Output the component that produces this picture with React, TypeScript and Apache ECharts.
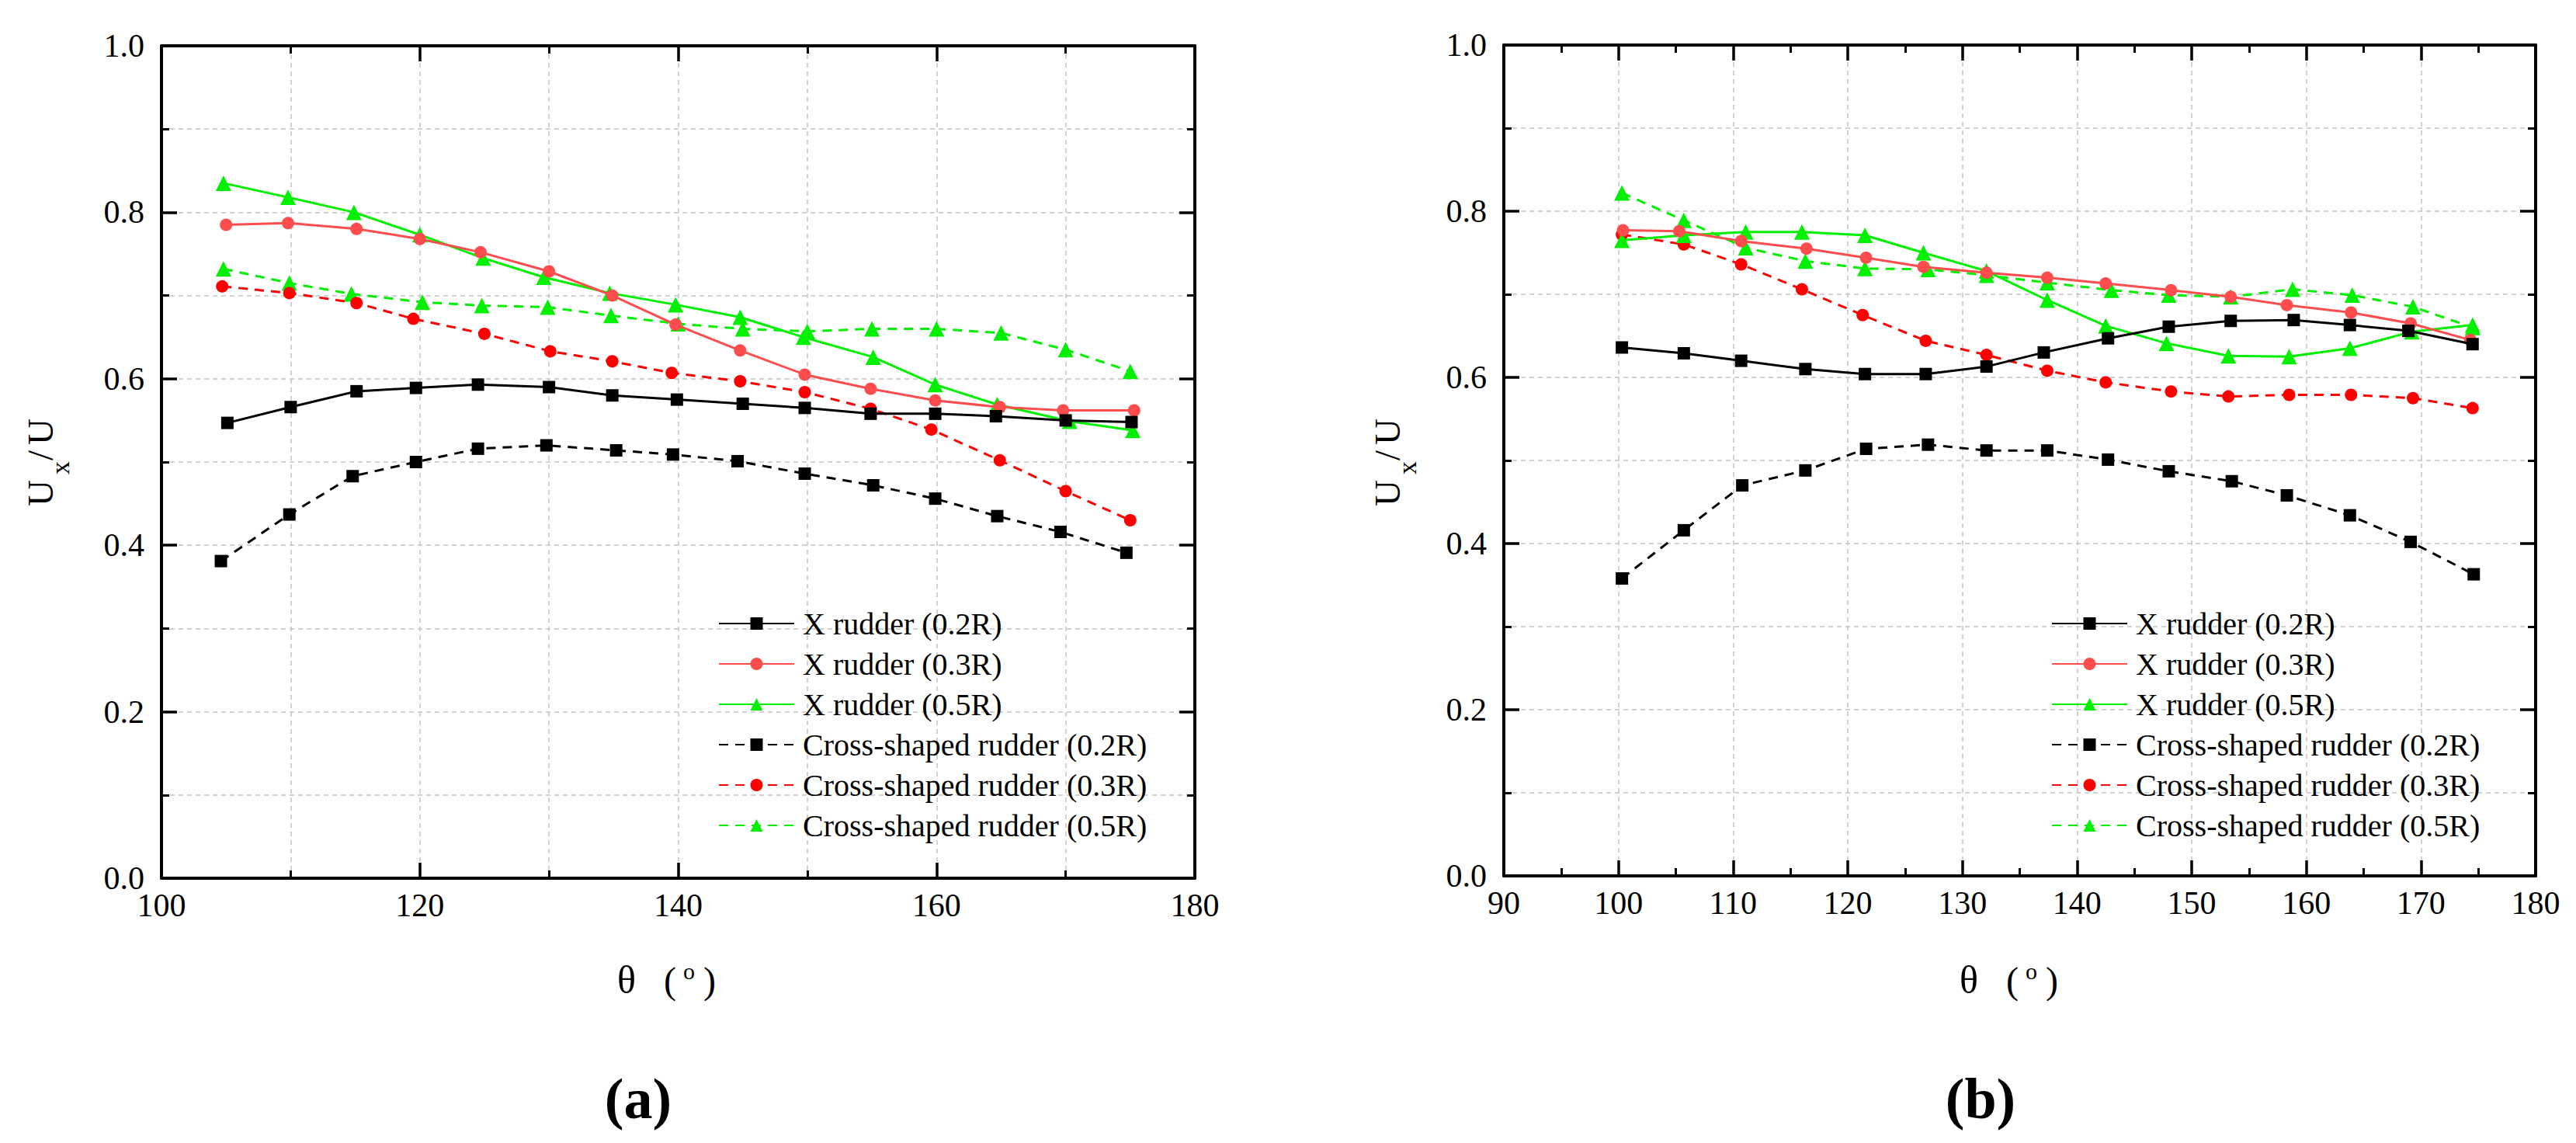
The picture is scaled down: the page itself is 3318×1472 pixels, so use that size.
import React, { useEffect, useRef } from "react";
import * as echarts from "echarts";

const FONT = "Liberation Serif";

const names = [
  "X rudder (0.2R)",
  "X rudder (0.3R)",
  "X rudder (0.5R)",
  "Cross-shaped rudder (0.2R)",
  "Cross-shaped rudder (0.3R)",
  "Cross-shaped rudder (0.5R)",
];

// Panel (a)
const aX02x = [105.1, 110.0, 115.1, 119.7, 124.5, 130.0, 134.9, 139.9, 145.0, 149.8, 154.9, 159.9, 164.6, 170.0, 175.1];
const aX02y = [0.547, 0.566, 0.585, 0.589, 0.593, 0.590, 0.580, 0.575, 0.570, 0.565, 0.558, 0.558, 0.555, 0.550, 0.548];
const aX03x = [105.0, 109.8, 115.1, 120.0, 124.7, 130.0, 134.9, 139.8, 144.8, 149.8, 154.9, 159.9, 164.9, 169.8, 175.3];
const aX03y = [0.785, 0.787, 0.780, 0.768, 0.752, 0.729, 0.700, 0.665, 0.634, 0.605, 0.588, 0.574, 0.566, 0.562, 0.562];
const aX05x = [104.8, 109.8, 114.9, 120.0, 124.9, 129.6, 134.7, 139.8, 144.8, 149.7, 155.1, 159.9, 164.7, 170.3, 175.2];
const aX05y = [0.835, 0.818, 0.800, 0.773, 0.745, 0.722, 0.703, 0.689, 0.674, 0.650, 0.626, 0.593, 0.569, 0.549, 0.538];
const aC02x = [104.6, 109.9, 114.8, 119.7, 124.5, 129.8, 135.2, 139.6, 144.6, 149.8, 155.1, 159.9, 164.7, 169.6, 174.7];
const aC02y = [0.381, 0.437, 0.483, 0.500, 0.516, 0.520, 0.514, 0.509, 0.501, 0.486, 0.472, 0.456, 0.435, 0.416, 0.391];
const aC03x = [104.7, 109.9, 115.1, 119.5, 125.0, 130.1, 134.9, 139.5, 144.8, 149.8, 154.9, 159.6, 164.9, 170.0, 175.0];
const aC03y = [0.711, 0.703, 0.691, 0.672, 0.654, 0.633, 0.621, 0.607, 0.597, 0.584, 0.564, 0.539, 0.502, 0.465, 0.430];
const aC05x = [104.8, 109.9, 114.7, 120.2, 124.8, 129.9, 134.8, 140.0, 145.0, 150.0, 155.0, 160.0, 165.0, 170.0, 175.0];
const aC05y = [0.732, 0.715, 0.702, 0.692, 0.688, 0.686, 0.676, 0.666, 0.660, 0.657, 0.660, 0.660, 0.655, 0.635, 0.609];

// Panel (b)
const bX02x = [100.3, 105.7, 110.7, 116.3, 121.5, 126.8, 132.1, 137.1, 142.7, 148.0, 153.4, 158.9, 163.8, 168.9, 174.5];
const bX02y = [0.636, 0.629, 0.620, 0.610, 0.604, 0.604, 0.613, 0.630, 0.647, 0.661, 0.668, 0.669, 0.663, 0.656, 0.640];
const bX03x = [100.4, 105.3, 110.7, 116.4, 121.6, 126.6, 132.1, 137.4, 142.5, 148.2, 153.4, 158.3, 163.9, 169.1, 174.3];
const bX03y = [0.777, 0.776, 0.764, 0.755, 0.744, 0.733, 0.726, 0.720, 0.713, 0.705, 0.697, 0.687, 0.678, 0.665, 0.645];
const bX05x = [100.3, 105.7, 111.1, 116.0, 121.5, 126.6, 132.1, 137.4, 142.5, 147.8, 153.2, 158.5, 163.8, 169.2, 174.5];
const bX05y = [0.765, 0.771, 0.775, 0.775, 0.771, 0.750, 0.728, 0.693, 0.662, 0.641, 0.626, 0.625, 0.635, 0.655, 0.663];
const bC02x = [100.3, 105.7, 110.8, 116.3, 121.6, 127.0, 132.1, 137.4, 142.7, 148.0, 153.5, 158.3, 163.8, 169.1, 174.6];
const bC02y = [0.358, 0.416, 0.470, 0.488, 0.514, 0.519, 0.512, 0.512, 0.501, 0.487, 0.475, 0.458, 0.434, 0.402, 0.363];
const bC03x = [100.3, 105.7, 110.7, 116.0, 121.3, 126.8, 132.1, 137.4, 142.5, 148.2, 153.2, 158.5, 163.9, 169.3, 174.5];
const bC03y = [0.772, 0.760, 0.736, 0.706, 0.675, 0.644, 0.627, 0.608, 0.594, 0.583, 0.577, 0.579, 0.579, 0.575, 0.563];
const bC05x = [100.3, 105.7, 111.1, 116.3, 121.5, 127.0, 132.1, 137.4, 143.0, 148.0, 153.4, 158.8, 164.0, 169.3, 174.5];
const bC05y = [0.822, 0.789, 0.756, 0.740, 0.731, 0.730, 0.723, 0.714, 0.705, 0.699, 0.697, 0.706, 0.699, 0.685, 0.660];

const panelLabels = ["(a)", "(b)"];

const colors = ["#000000", "#ff4d4d", "#00f000", "#000000", "#ff0000", "#00f000"];
const symbols = ["rect", "circle", "triangle", "rect", "circle", "triangle"];
const symbolSizes = [16, 16, 20, 16, 16, 20];

const zip = (xs: number[], ys: number[]) => xs.map((x, i) => [x, ys[i]]);

const gridLine = { color: "#c4c4c4", width: 1.5, type: [6, 5] as any };

function makeAxes(gi: number, min: number, max: number, interval: number, minorGrid: boolean) {
  const base = {
    type: "value" as const,
    gridIndex: gi,
    min,
    max,
    interval,
    axisLine: { show: true, onZero: false, lineStyle: { color: "#000", width: 4 } },
    axisTick: { show: true, inside: true, length: 20, lineStyle: { color: "#000", width: 3.5 } },
    minorTick: { show: true, splitNumber: 2, length: 10, lineStyle: { color: "#000", width: 3 } },
  };
  const x = [
    {
      ...base,
      position: "bottom",
      splitLine: { show: true, lineStyle: gridLine },
      minorSplitLine: { show: minorGrid, lineStyle: gridLine },
      axisLabel: { show: true, fontFamily: FONT, fontSize: 42, color: "#000", margin: 14 },
    },
    {
      ...base,
      position: "top",
      splitLine: { show: false },
      minorSplitLine: { show: false },
      axisLabel: { show: false },
    },
  ];
  const ybase = {
    ...base,
    min: 0,
    max: 1,
    interval: 0.2,
  };
  const y = [
    {
      ...ybase,
      position: "left",
      splitLine: { show: true, lineStyle: gridLine },
      minorSplitLine: { show: true, lineStyle: gridLine },
      axisLabel: {
        show: true,
        fontFamily: FONT,
        fontSize: 42,
        color: "#000",
        margin: 22,
        formatter: (v: number) => v.toFixed(1),
      },
    },
    {
      ...ybase,
      position: "right",
      splitLine: { show: false },
      minorSplitLine: { show: false },
      axisLabel: { show: false },
    },
  ];
  return { x, y };
}

function makeSeries(gi: number, sets: number[][][]) {
  return sets.map((data, k) => ({
    type: "line",
    name: names[k],
    xAxisIndex: gi * 2,
    yAxisIndex: gi * 2,
    data,
    symbol: symbols[k],
    symbolSize: symbolSizes[k],
    showSymbol: true,
    lineStyle: { color: colors[k], width: 3, type: k >= 3 ? [12, 9] : "solid" },
    itemStyle: { color: colors[k] },
    z: 10 - k,
  }));
}

function titleGraphics(dx: number, dyTitle: number) {
  const t = (text: string, x: number, y: number, size: number) => ({
    type: "text",
    x,
    y,
    style: { text, fontFamily: FONT, fontSize: size, fill: "#000", align: "left", verticalAlign: "middle" },
  });
  return [
    t("θ", 795 + dx, 1262, 50),
    t("(", 855 + dx, 1262, 48),
    t("o", 880 + dx, 1250, 30),
    t(")", 906 + dx, 1262, 48),
    {
      type: "group",
      x: 65 + dyTitle,
      y: 595,
      rotation: Math.PI / 2,
      children: [t("U", -57, -13, 47), t("x", -16, 12, 34), t("/", 2, -13, 47), t("U", 22, -13, 47)],
    },
  ];
}

export default function App() {
  const ref = useRef<HTMLDivElement>(null);
  useEffect(() => {
    if (!ref.current) return;
    const chart = echarts.init(ref.current, undefined, { renderer: "svg" });
    const A = makeAxes(0, 100, 180, 20, true);
    const B = makeAxes(1, 90, 180, 10, false);
    const legendBase = {
      orient: "vertical",
      top: 778,
      itemWidth: 97,
      itemHeight: 20,
      itemGap: 12,
      selectedMode: false,
      data: names,
      textStyle: { fontFamily: FONT, fontSize: 40, lineHeight: 40, color: "#000", padding: [0, 0, 0, 6] },
    };
    chart.setOption({
      animation: false,
      backgroundColor: "#ffffff",
      textStyle: { fontFamily: FONT },
      grid: [
        { left: 208, top: 59, width: 1331, height: 1072 },
        { left: 1937, top: 58, width: 1329, height: 1070 },
      ],
      xAxis: [...A.x, ...B.x],
      yAxis: [...A.y, ...B.y],
      legend: [
        { ...legendBase, left: 920 },
        { ...legendBase, left: 2637 },
      ],
      series: [
        ...makeSeries(0, [zip(aX02x, aX02y), zip(aX03x, aX03y), zip(aX05x, aX05y), zip(aC02x, aC02y), zip(aC03x, aC03y), zip(aC05x, aC05y)]),
        ...makeSeries(1, [zip(bX02x, bX02y), zip(bX03x, bX03y), zip(bX05x, bX05y), zip(bC02x, bC02y), zip(bC03x, bC03y), zip(bC05x, bC05y)]),
      ],
      graphic: [
        ...titleGraphics(0, 0),
        ...titleGraphics(1729, 1735),
        {
          type: "text",
          x: 822,
          y: 1415,
          style: { text: panelLabels[0], fontFamily: FONT, fontSize: 74, fontWeight: "bold", fill: "#000", align: "center", verticalAlign: "middle" },
        },
        {
          type: "text",
          x: 2551,
          y: 1415,
          style: { text: panelLabels[1], fontFamily: FONT, fontSize: 74, fontWeight: "bold", fill: "#000", align: "center", verticalAlign: "middle" },
        },
      ],
    });
    return () => chart.dispose();
  }, []);
  return (
    <div
      ref={ref}
      style={{ position: "absolute", left: 0, top: 0, width: 3318, height: 1472, background: "#fff" }}
    />
  );
}
